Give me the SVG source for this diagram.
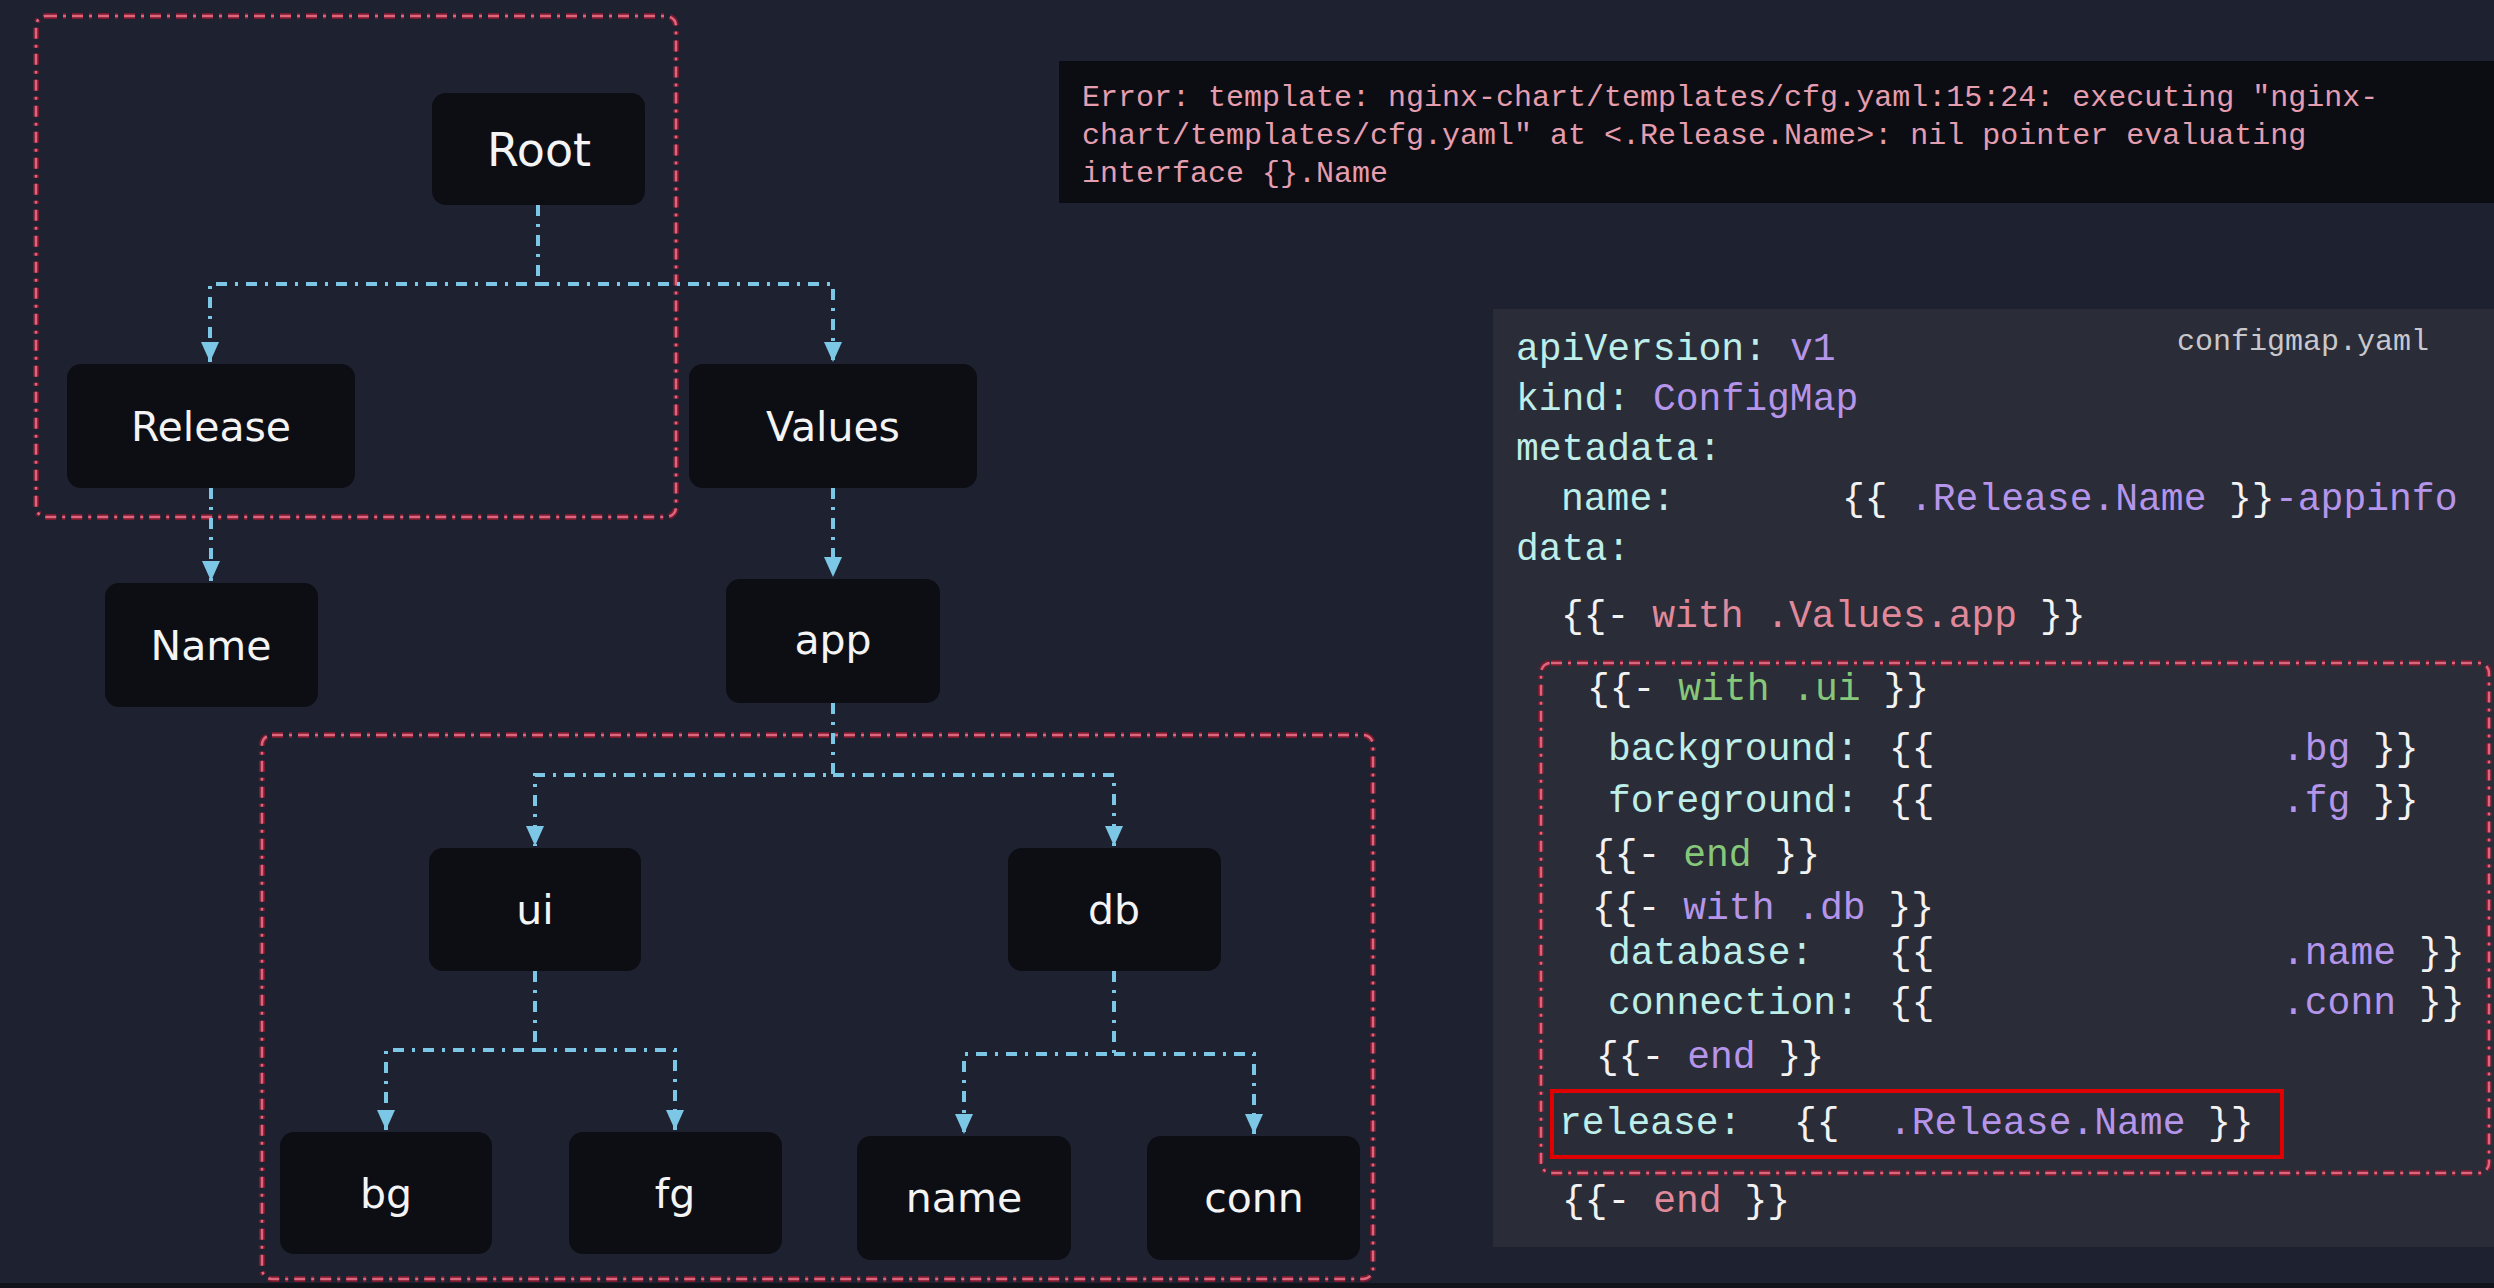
<svg xmlns="http://www.w3.org/2000/svg" width="2494" height="1288" viewBox="0 0 2494 1288">
<style>
.bg{fill:#1e2130}
.node rect{fill:#0c0e14}
.node text{font-family:"DejaVu Sans",Verdana,sans-serif;font-size:41px;fill:#f4f4f4;text-anchor:middle}
.conn path{fill:none;stroke:#7cc6e6;stroke-width:4;stroke-dasharray:11 8 3 8;marker-end:url(#arr)}
.grp-o{fill:none;stroke:#7a1a2c;stroke-width:6;stroke-dasharray:11 6 3 6}
.grp-i{fill:none;stroke:#dc6680;stroke-width:2.5;stroke-dasharray:11 6 3 6}
.err{font-family:"Liberation Mono","DejaVu Sans Mono",monospace;font-size:30px;fill:#e59db0}
.code{font-family:"Liberation Mono","DejaVu Sans Mono",monospace;font-size:38px;white-space:pre}
.k{fill:#bdeee9}.p{fill:#b595ea}.w{fill:#f2f2f2}.r{fill:#e0899a}.g{fill:#86c77a}
</style>
<defs>
<marker id="arr" markerUnits="userSpaceOnUse" markerWidth="20" markerHeight="18" viewBox="0 0 20 18" refX="20" refY="9" orient="auto">
<path d="M0,0 L20,9 L0,18 Z" fill="#7cc6e6"/>
</marker>
</defs>
<rect class="bg" x="0" y="0" width="2494" height="1288"/>
<rect x="0" y="1283" width="2494" height="5" fill="#10131a"/>

<!-- group boxes -->
<g id="group-release">
<rect class="grp-o" x="36" y="16" width="640" height="501" rx="10"/>
<rect class="grp-i" x="36" y="16" width="640" height="501" rx="10"/>
</g>
<g id="group-app">
<rect class="grp-o" x="262" y="735" width="1111" height="544" rx="10"/>
<rect class="grp-i" x="262" y="735" width="1111" height="544" rx="10"/>
</g>

<!-- connectors -->
<g id="connectors" class="conn">
<path d="M538,205 V284 H210 V362"/>
<path d="M538,284 H833 V362"/>
<path d="M211,488 V581"/>
<path d="M833,488 V577"/>
<path d="M833,703 V775 H535 V846"/>
<path d="M833,775 H1114 V846"/>
<path d="M535,971 V1050 H386 V1130"/>
<path d="M535,1050 H675 V1130"/>
<path d="M1114,971 V1054 H964 V1134"/>
<path d="M1114,1054 H1254 V1134"/>
</g>

<!-- nodes -->
<g id="node-root" class="node"><rect x="432" y="93" width="213" height="112" rx="14"/><text x="539" y="166" style="font-size:46px">Root</text></g>
<g id="node-release" class="node"><rect x="67" y="364" width="288" height="124" rx="14"/><text x="211" y="441">Release</text></g>
<g id="node-values" class="node"><rect x="689" y="364" width="288" height="124" rx="14"/><text x="833" y="441">Values</text></g>
<g id="node-name" class="node"><rect x="105" y="583" width="213" height="124" rx="14"/><text x="211" y="660">Name</text></g>
<g id="node-app" class="node"><rect x="726" y="579" width="214" height="124" rx="14"/><text x="833" y="654">app</text></g>
<g id="node-ui" class="node"><rect x="429" y="848" width="212" height="123" rx="14"/><text x="535" y="924">ui</text></g>
<g id="node-db" class="node"><rect x="1008" y="848" width="213" height="123" rx="14"/><text x="1114" y="924">db</text></g>
<g id="node-bg" class="node"><rect x="280" y="1132" width="212" height="122" rx="14"/><text x="386" y="1208">bg</text></g>
<g id="node-fg" class="node"><rect x="569" y="1132" width="213" height="122" rx="14"/><text x="675" y="1208">fg</text></g>
<g id="node-dbname" class="node"><rect x="857" y="1136" width="214" height="124" rx="14"/><text x="964" y="1212">name</text></g>
<g id="node-conn" class="node"><rect x="1147" y="1136" width="213" height="124" rx="14"/><text x="1254" y="1212">conn</text></g>

<!-- error box -->
<g id="error">
<rect x="1059" y="61" width="1435" height="142" fill="#0b0d12"/>
<text class="err" x="1082" y="106">Error: template: nginx-chart/templates/cfg.yaml:15:24: executing "nginx-</text>
<text class="err" x="1082" y="144">chart/templates/cfg.yaml" at &lt;.Release.Name&gt;: nil pointer evaluating</text>
<text class="err" x="1082" y="182">interface {}.Name</text>
</g>

<!-- code panel -->
<g id="code-panel">
<rect x="1493" y="309" width="1001" height="938" fill="#2a2c38"/>
<text x="2177" y="350" style="font-family:'Liberation Mono','DejaVu Sans Mono',monospace;font-size:30px;fill:#c8c8cc">configmap.yaml</text>
<text class="code" y="360"><tspan class="k" x="1516">apiVersion:</tspan><tspan class="p" x="1790">v1</tspan></text>
<text class="code" y="410"><tspan class="k" x="1516">kind:</tspan><tspan class="p" x="1653">ConfigMap</tspan></text>
<text class="code" y="460"><tspan class="k" x="1516">metadata:</tspan></text>
<text class="code" y="510"><tspan class="k" x="1561">name:</tspan><tspan class="w" x="1842">{{</tspan><tspan class="p" x="1910">.Release.Name</tspan><tspan class="w" x="2229">}}</tspan><tspan class="p" x="2275">-appinfo</tspan></text>
<text class="code" y="560"><tspan class="k" x="1516">data:</tspan></text>
<text class="code" x="1561" y="627"><tspan class="w">{{- </tspan><tspan class="r">with .Values.app</tspan><tspan class="w"> }}</tspan></text>
<g id="group-inner">
<rect class="grp-o" x="1541" y="663" width="948" height="510" rx="10"/>
<rect class="grp-i" x="1541" y="663" width="948" height="510" rx="10"/>
</g>
<text class="code" x="1587" y="700"><tspan class="w">{{- </tspan><tspan class="g">with .ui</tspan><tspan class="w"> }}</tspan></text>
<text class="code" y="760"><tspan class="k" x="1608">background:</tspan><tspan class="w" x="1889">{{</tspan><tspan class="p" x="2282">.bg</tspan><tspan class="w" x="2373">}}</tspan></text>
<text class="code" y="812"><tspan class="k" x="1608">foreground:</tspan><tspan class="w" x="1889">{{</tspan><tspan class="p" x="2282">.fg</tspan><tspan class="w" x="2373">}}</tspan></text>
<text class="code" x="1592" y="866"><tspan class="w">{{- </tspan><tspan class="g">end</tspan><tspan class="w"> }}</tspan></text>
<text class="code" x="1592" y="919"><tspan class="w">{{- </tspan><tspan class="p">with .db</tspan><tspan class="w"> }}</tspan></text>
<text class="code" y="964"><tspan class="k" x="1608">database:</tspan><tspan class="w" x="1889">{{</tspan><tspan class="p" x="2282">.name</tspan><tspan class="w" x="2419">}}</tspan></text>
<text class="code" y="1014"><tspan class="k" x="1608">connection:</tspan><tspan class="w" x="1889">{{</tspan><tspan class="p" x="2282">.conn</tspan><tspan class="w" x="2419">}}</tspan></text>
<text class="code" x="1596" y="1068"><tspan class="w">{{- </tspan><tspan class="p">end</tspan><tspan class="w"> }}</tspan></text>
<rect x="1552" y="1091" width="730" height="66" fill="none" stroke="#e00000" stroke-width="4"/>
<text class="code" y="1134"><tspan class="k" x="1559">release:</tspan><tspan class="w" x="1794">{{</tspan><tspan class="p" x="1889">.Release.Name</tspan><tspan class="w" x="2208">}}</tspan></text>
<text class="code" x="1562" y="1212"><tspan class="w">{{- </tspan><tspan class="r">end</tspan><tspan class="w"> }}</tspan></text>
</g>
</svg>
